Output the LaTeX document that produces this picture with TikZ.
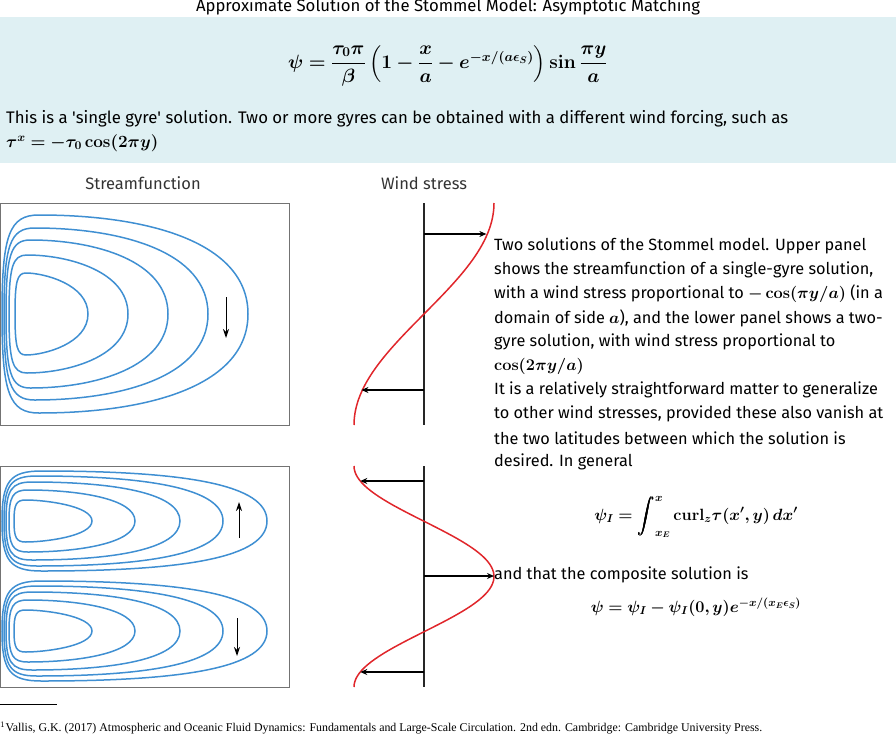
\RequirePackage{fix-cm}
\documentclass[tikz,border=0pt]{standalone}
\usepackage{amsmath}
\usepackage{bm}
\usepackage[no-math]{fontspec}
\setmainfont{Fira Sans}
\newfontfamily\refont{Liberation Serif}
\usetikzlibrary{positioning}
\usetikzlibrary{arrows.meta}
\definecolor{boxfill}{HTML}{DFF0F3}
\definecolor{gyreblue}{HTML}{3F8FD2}
\definecolor{windred}{HTML}{E0262B}
\tikzstyle{panel} = [draw=black!55, line width=1.2pt]
\tikzstyle{gyre} = [draw=gyreblue, line width=1.5pt]
\tikzstyle{wind} = [draw=windred, line width=1.5pt]
\tikzstyle{axis} = [draw=black!85, line width=1.5pt]
\tikzstyle{stress} = [draw=black, line width=1.2pt, -{Stealth[length=7pt,width=6pt]}]
\tikzstyle{flow} = [draw=black, line width=1pt, -{Stealth[length=9pt,width=6pt]}]
\tikzstyle{body} = [inner sep=0pt, font=\fontsize{16.3}{24}\selectfont]
\tikzstyle{line} = [body, anchor=west]
\newcommand{\gyreloop}[5]{%
  \pgfmathsetmacro{\gw}{#2-#1}
  \draw[gyre] (#1,#3) .. controls (#1,#3-0.8*#4) and (#1+0.03*\gw,#3-#4) .. (#1+0.15*\gw,#3-#4)
    .. controls (#1+#5*\gw,#3-#4) and (#2,#3-0.72*#4) .. (#2,#3)
    .. controls (#2,#3+0.72*#4) and (#1+#5*\gw,#3+#4) .. (#1+0.15*\gw,#3+#4)
    .. controls (#1+0.03*\gw,#3+#4) and (#1,#3+0.8*#4) .. cycle;}

\begin{document}
\begin{tikzpicture}[x=1pt, y=-1pt]
	\useasboundingbox (0,0) rectangle (896,736);
	\fill[boxfill] (0,17) rectangle (896,163);
	\node [body] (title) at (448,7) {\resizebox{504pt}{!}{Approximate Solution of the Stommel Model: Asymptotic Matching}};
	\node [body] (solution) at (448,66)
		{\scalebox{1.18}{$\bm{\psi = \dfrac{\tau_0\pi}{\beta}\left(1-\dfrac{x}{a}-e^{-x/(a\epsilon_S)}\right)\sin\dfrac{\pi y}{a}}$}};
	\node [line] (single) at (6,119) {\resizebox{782pt}{!}{This is a \textquotesingle single gyre\textquotesingle{} solution. Two or more gyres can be obtained with a different wind forcing, such as}};
	\node [line] (forcing) at (6,143) {\scalebox{1.05}{$\bm{\tau^x = -\tau_0\cos(2\pi y)}$}};

	\node [body, font=\fontsize{16.5}{20}\selectfont\color{black!80}] (sflabel) at (143,183) {Streamfunction};
	\node [body, font=\fontsize{16.5}{20}\selectfont\color{black!80}] (wslabel) at (424,183) {Wind stress};

	% single gyre
	\node [panel, minimum width=289pt, minimum height=222pt, anchor=north west, inner sep=0pt] (upper) at (0,203) {};
	\foreach \xl/\xr/\h/\k in {15/88/41/0.4, 9/128/59/0.5, 6/168/74/0.55, 4/208/86/0.58, 2/248/99/0.6}
		\gyreloop{\xl}{\xr}{314}{\h}{\k};
	\coordinate (up1) at (226,297);
	\coordinate (up2) at (226,338);
	\draw [flow] (up1) -- (up2);

	% two gyres
	\node [panel, minimum width=289pt, minimum height=221pt, anchor=north west, inner sep=0pt] (lower) at (0,466) {};
	\foreach \xl/\xr/\h/\k in {14/92/21/0.4, 9/135/31/0.55, 6/180/39/0.62, 4/223/45/0.66, 2/267/50/0.7} {
		\gyreloop{\xl}{\xr}{521}{\h}{\k};
		\gyreloop{\xl}{\xr}{631}{\h}{\k};
	}
	\coordinate (lo1) at (239,538);
	\coordinate (lo2) at (239,502);
	\draw [flow] (lo1) -- (lo2);
	\coordinate (lo3) at (237,618);
	\coordinate (lo4) at (237,656);
	\draw [flow] (lo3) -- (lo4);

	% wind stress profiles
	\coordinate (axtop) at (424,203);
	\coordinate (axmid) at (424,425);
	\draw [axis] (axtop) -- (axmid);
	\draw [wind] plot[domain=203:425, samples=60, variable=\t] ({424+70*cos((\t-203)/222*180)}, \t);
	\foreach \t [count=\i] in {234, 390} {
		\coordinate (wa\i) at (424,\t);
		\coordinate (wt\i) at ({424+70*cos((\t-203)/222*180)-1},\t);
		\draw [stress] (wa\i) -- (wt\i);
	}
	\coordinate (bxtop) at (424,466);
	\coordinate (bxbot) at (424,687);
	\draw [axis] (bxtop) -- (bxbot);
	\draw [wind] plot[domain=466:687, samples=80, variable=\t] ({424-70*cos((\t-466)/221*360)}, \t);
	\foreach \t [count=\i] in {481, 576, 672} {
		\coordinate (wb\i) at (424,\t);
		\coordinate (wc\i) at ({424-70*cos((\t-466)/221*360)},\t);
		\draw [stress] (wb\i) -- (wc\i);
	}

	% caption
	\node [line] (cap1) at (494,246) {Two solutions of the Stommel model. Upper panel};
	\node [line] (cap2) at (494,270) {shows the streamfunction of a single-gyre solution,};
	\node [line] (cap3) at (494,294) {with a wind stress proportional to $\bm{-\cos(\pi y/a)}$ (in a};
	\node [line] (cap4) at (494,318) {domain of side $\bm{a}$), and the lower panel shows a two-};
	\node [line] (cap5) at (494,342) {gyre solution, with wind stress proportional to};
	\node [line] (cap6) at (494,366) {$\bm{\cos(2\pi y/a)}$};
	\node [line] (cap7) at (494,390) {It is a relatively straightforward matter to generalize};
	\node [line] (cap8) at (494,414) {to other wind stresses, provided these also vanish at};
	\node [line] (cap9) at (494,438) {the two latitudes between which the solution is};
	\node [line] (cap10) at (494,462) {desired. In general};
	\node [body] (interior) at (696,517) {$\bm{\psi_I = \displaystyle\int_{x_E}^{x} \mathrm{curl}_z\tau(x',y)\,dx'}$};
	\node [line] (cap11) at (494,575) {and that the composite solution is};
	\node [body] (composite) at (696,607) {$\bm{\psi = \psi_I - \psi_I(0,y)e^{-x/(x_E\epsilon_S)}}$};

	% footnote
	\coordinate (rulea) at (0,704);
	\coordinate (ruleb) at (57,704);
	\draw [line width=0.6pt] (rulea) -- (ruleb);
	\node [inner sep=0pt, anchor=west] (ref) at (0,728) {\resizebox{762pt}{!}{\refont\fontsize{10}{12}\selectfont $^1$Vallis, G.K. (2017) Atmospheric and Oceanic Fluid Dynamics: Fundamentals and Large-Scale Circulation. 2nd edn. Cambridge: Cambridge University Press.}};
\end{tikzpicture}
\end{document}
